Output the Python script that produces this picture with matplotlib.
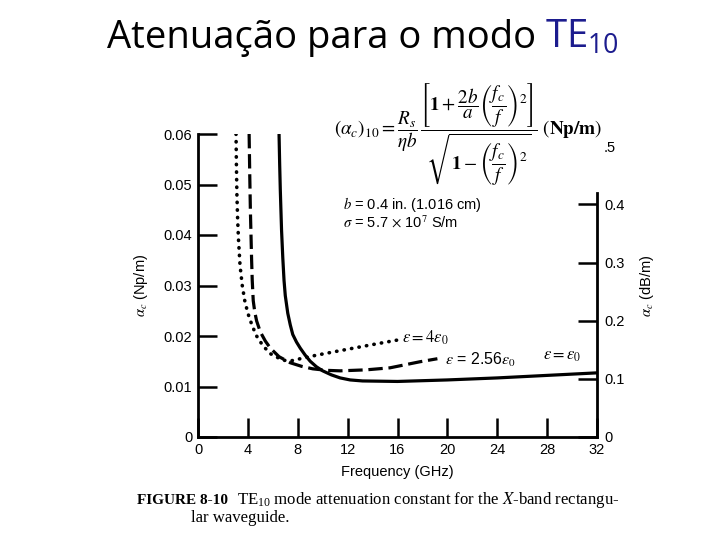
import matplotlib
matplotlib.use("Agg")
import matplotlib.pyplot as plt

# values (GHz, Np/m)
freq_air = [6.5, 6.55, 6.6, 6.65, 6.7, 6.8, 6.9, 7.0, 7.2, 7.4, 7.6, 7.9, 8.2, 8.6, 9.0,
            9.5, 10.0, 10.7, 11.4, 12.2, 13.2, 16.0, 20.0, 24.0, 28.0, 32.0]
alpha_air = [0.060, 0.054, 0.049, 0.045, 0.041, 0.0355, 0.031, 0.028, 0.0245, 0.0222,
             0.0203, 0.0188, 0.0176, 0.0162, 0.0150, 0.0139, 0.0131, 0.0123, 0.0117,
             0.0113, 0.0111, 0.0110, 0.0113, 0.0117, 0.0122, 0.0127]

freq_256 = [4.1, 4.15, 4.2, 4.25, 4.3, 4.35, 4.43, 4.55, 4.7, 5.0, 5.4, 5.8, 6.5, 7.4,
            8.3, 9.2, 10.3, 11.4, 13.5, 15.4, 17.8, 19.2]
alpha_256 = [0.060, 0.052, 0.045, 0.040, 0.035, 0.031, 0.027, 0.0248, 0.0230, 0.0208,
             0.0190, 0.0176, 0.0159, 0.0147, 0.0140, 0.0135, 0.0132, 0.0131, 0.0133,
             0.0137, 0.0149, 0.0155]

freq_4 = [3.05, 3.08, 3.12, 3.18, 3.25, 3.37, 3.55, 3.75, 4.0, 4.35, 4.7, 5.2, 5.8, 6.8,
          7.5, 8.2, 9.5, 11.4, 14.0, 16.0]
alpha_4 = [0.060, 0.054, 0.048, 0.043, 0.039, 0.034, 0.030, 0.027, 0.0245, 0.0220,
           0.0200, 0.0181, 0.0165, 0.0152, 0.0151, 0.0155, 0.0162, 0.0171, 0.0183, 0.0192]

x_ticks = [0, 4, 8, 12, 16, 20, 24, 28, 32]
np_ticks = [0, 0.01, 0.02, 0.03, 0.04, 0.05, 0.06]
np_labels = ["0", "0.01", "0.02", "0.03", "0.04", "0.05", "0.06"]
db_ticks = [0, 0.1, 0.2, 0.3, 0.4, 0.5]
db_labels = ["0", "0.1", "0.2", "0.3", "0.4", ".5"]
NP_TO_DB = 8.686

plt.rcParams["mathtext.fontset"] = "stix"
SANS = "Liberation Sans"
SERIF = "Liberation Serif"

fig = plt.figure(figsize=(7.2, 5.4), dpi=100)
renderer = fig.canvas.get_renderer()
ax = fig.add_axes([198 / 720, 103 / 540, 399 / 720, 303 / 540])

ax.plot(freq_air, alpha_air, color="black", lw=2.3, solid_capstyle="butt")
ax.plot(freq_256, alpha_256, color="black", lw=2.3, dashes=(4.5, 1.8))
ax.plot(freq_4, alpha_4, color="black", lw=2.6, linestyle=(0, (0.1, 2.0)),
        dash_capstyle="round")

ax.set_xlim(0, 32)
ax.set_ylim(0, 0.06)
ax.set_xticks(x_ticks)
ax.set_xticklabels([str(t) for t in x_ticks], family=SANS, fontsize=10.5)
ax.set_yticks(np_ticks)
ax.set_yticklabels(np_labels, family=SANS, fontsize=10.5)
ax.tick_params(direction="in", length=14, width=1.8, pad=4)
for side in ["left", "bottom"]:
    ax.spines[side].set_linewidth(2)
ax.spines["top"].set_visible(False)
ax.spines["right"].set_visible(False)

ax.set_xlabel("Frequency (GHz)", family=SANS, fontsize=10.5, labelpad=6)
ax.set_ylabel(r"$\alpha_c$ (Np/m)", family=SANS, fontsize=10.5, labelpad=10)

ax2 = ax.twinx()
ax2.set_ylim(0, 0.06 * NP_TO_DB)
ax2.set_yticks(db_ticks)
ax2.set_yticklabels(db_labels, family=SANS, fontsize=10.5)
ax2.tick_params(direction="in", length=14, width=1.8, pad=5)
ax2.yaxis.get_major_ticks()[-1].tick2line.set_visible(False)
for side in ["left", "top", "bottom"]:
    ax2.spines[side].set_visible(False)
ax2.spines["right"].set_linewidth(2)
ax2.spines["right"].set_bounds(0, 0.42)
ax2.set_ylabel(r"$\alpha_c$ (dB/m)", family=SANS, fontsize=10.5, labelpad=10)

# curve labels
ax.text(16.4, 0.0196, r"$\epsilon = 4\epsilon_0$", fontsize=12, va="center")
ax.text(19.8, 0.0152, r"$\epsilon$ = 2.56$\epsilon_0$", family=SANS, fontsize=11.5,
        va="center")
ax.text(27.7, 0.0162, r"$\epsilon = \epsilon_0$", fontsize=12, va="center")

# formula and waveguide data
formula = (r"$(\alpha_c)_{10} = \dfrac{R_s}{\eta b}\,"
           r"\dfrac{\left[\mathbf{1} + \dfrac{2b}{a}\left(\dfrac{f_c}{f}\right)^2\right]}"
           r"{\sqrt{\mathbf{1} - \left(\dfrac{f_c}{f}\right)^2}}\ (\mathbf{Np/m})$")
fig.text(468 / 720, 1 - 135 / 540, formula, fontsize=13.8, ha="center", va="center")
fig.text(343 / 720, 1 - 205 / 540, r"$b$ = 0.4 in. (1.016 cm)", family=SANS,
         fontsize=10.5, va="center")
fig.text(343 / 720, 1 - 222 / 540, r"$\sigma$ = 5.7 $\times$ 10$^7$ S/m", family=SANS,
         fontsize=10.5, va="center")

# slide title: black part, then blue TE10 right after it
t1 = fig.text(107 / 720, 1 - 48 / 540, "Atenuação para o modo", family="Open Sans",
              fontsize=27.5, va="baseline", ha="left")
bb = t1.get_window_extent(renderer)
fig.text((bb.x1 + 9) / 720, 1 - 48 / 540, r"TE$\mathregular{_{10}}$", family="Open Sans",
         fontsize=27.5, va="baseline", ha="left", color="#1c1c8e")

# caption
fig.text(137 / 720, 1 - 500 / 540, "FIGURE 8-10", family=SERIF, weight="bold",
         fontsize=11, va="center")
fig.text(237 / 720, 1 - 500 / 540,
         r"TE$\mathregular{_{10}}$ mode attenuation constant for the $X$-band rectangu-",
         family=SERIF, fontsize=12.1, va="center")
fig.text(191 / 720, 1 - 518 / 540, "lar waveguide.", family=SERIF, fontsize=12.1,
         va="center")

fig.savefig("out.png", dpi=100)
